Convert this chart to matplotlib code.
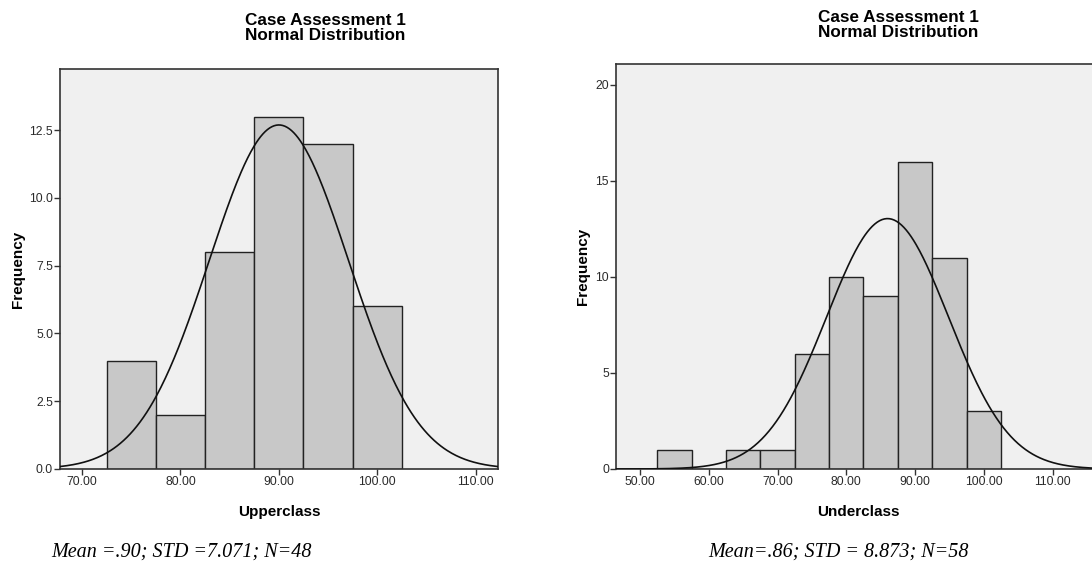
import numpy as np
import matplotlib
matplotlib.use("Agg")
import matplotlib.pyplot as plt

# histogram data (bin width 5)
upper_bins = [72.5, 77.5, 82.5, 87.5, 92.5, 97.5]
upper_counts = [4, 2, 8, 13, 12, 6]
upper_mean, upper_sd = 90.0, 7.071

under_bins = [52.5, 57.5, 62.5, 67.5, 72.5, 77.5, 82.5, 87.5, 92.5, 97.5]
under_counts = [1, 0, 1, 1, 6, 10, 9, 16, 11, 3]
under_mean, under_sd = 86.0, 8.873

bin_width = 5
title = "Case Assessment 1\nNormal Distribution"
upper_caption = "Mean =.90; STD =7.071; N=48"
under_caption = "Mean=.86; STD = 8.873; N=58"

plt.rcParams['font.family'] = ['Liberation Sans', 'DejaVu Sans']

fig = plt.figure(figsize=(10.92, 5.63), dpi=100)
ax1 = fig.add_axes([0.0549, 0.167, 0.401, 0.710])
ax2 = fig.add_axes([0.564, 0.167, 0.444, 0.719])


def draw_hist(ax, bins, counts, mean, sd, xlim, ylim, xticks, yticks, yfmt, xlabel, ypad):
    ax.set_facecolor("#f0f0f0")
    ax.bar(bins, counts, width=bin_width, align="edge", color="#c8c8c8",
           edgecolor="#222222", linewidth=1.0, zorder=2)
    n = sum(counts)
    x = np.linspace(xlim[0], xlim[1], 400)
    y = n * bin_width * np.exp(-0.5 * ((x - mean) / sd) ** 2) / (sd * np.sqrt(2 * np.pi))
    ax.plot(x, y, color="#111111", linewidth=1.2, zorder=3)
    ax.set_xlim(*xlim)
    ax.set_ylim(*ylim)
    ax.set_xticks(xticks)
    ax.set_xticklabels([f"{t:.2f}" for t in xticks])
    ax.set_yticks(yticks)
    ax.set_yticklabels([yfmt.format(t) for t in yticks])
    ax.tick_params(direction="out", length=4, width=1, color="#333333",
                   labelsize=8.7, labelcolor="#2a2a2a", pad=1)
    for s in ax.spines.values():
        s.set_color("#333333")
        s.set_linewidth(1.2)
    ax.set_xlabel(xlabel, fontsize=11, fontweight="bold", labelpad=12)
    ax.set_ylabel("Frequency", fontsize=11, fontweight="bold", labelpad=ypad)


draw_hist(ax1, upper_bins, upper_counts, upper_mean, upper_sd,
          (67.75, 112.25), (0, 14.75), [70, 80, 90, 100, 110],
          [0, 2.5, 5, 7.5, 10, 12.5], "{:.1f}", "Upperclass", 3)
draw_hist(ax2, under_bins, under_counts, under_mean, under_sd,
          (46.5, 117.0), (0, 21.08), [50, 60, 70, 80, 90, 100, 110],
          [0, 5, 10, 15, 20], "{:.0f}", "Underclass", 4)

fig.text(325 / 1092, 1 - 28 / 563, title, ha="center", va="center",
         fontsize=12.3, fontweight="bold", linespacing=1.0)
fig.text(898 / 1092, 1 - 25 / 563, title, ha="center", va="center",
         fontsize=12.3, fontweight="bold", linespacing=1.0)

fig.text(51 / 1092, 1 - 552 / 563, upper_caption, ha="left", va="center",
         fontsize=14.5, style="italic", family="Liberation Serif")
fig.text(708 / 1092, 1 - 552 / 563, under_caption, ha="left", va="center",
         fontsize=14.5, style="italic", family="Liberation Serif")

fig.savefig("out.png", dpi=100)
